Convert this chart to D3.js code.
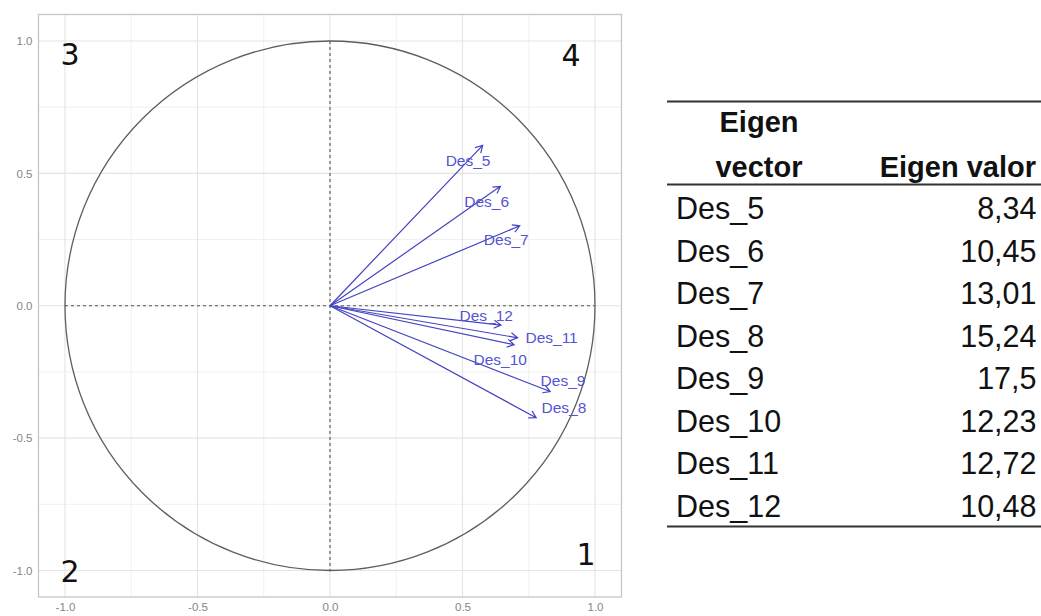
<!DOCTYPE html>
<html>
<head>
<meta charset="utf-8">
<script src="https://cdn.jsdelivr.net/npm/d3@7"></script>
<style>
  html, body { margin: 0; padding: 0; background: #fff; }
  svg { display: block; }
</style>
</head>
<body>
<svg id="chart" width="1041" height="616"></svg>
<script>
// Variable loadings on the first two principal components
const variables = ["Des_5", "Des_6", "Des_7", "Des_8", "Des_9", "Des_10", "Des_11", "Des_12"];
const loadingDim1 = [0.576, 0.643, 0.716, 0.778, 0.831, 0.695, 0.708, 0.645];
const loadingDim2 = [0.606, 0.451, 0.302, -0.423, -0.324, -0.147, -0.121, -0.073];

// Eigenvalues reported in the side table
const eigenValues = [8.34, 10.45, 13.01, 15.24, 17.5, 12.23, 12.72, 10.48];

// Axis ticks
const tickValues = [-1, -0.5, 0, 0.5, 1];
const tickLabels = ["-1.0", "-0.5", "0.0", "0.5", "1.0"];
const minorTicks = [-0.75, -0.25, 0.25, 0.75];

// Quadrant numbers
const quadrants = ["1", "2", "3", "4"];

const svg = d3.select("#chart");
svg.append("rect").attr("width", 1041).attr("height", 616).attr("fill", "#fff");

const x = d3.scaleLinear().domain([-1.1, 1.1]).range([38.5, 621.5]);
const y = d3.scaleLinear().domain([-1.1, 1.1]).range([597, 14.5]);

const plot = svg.append("g");

// grid
plot.selectAll("line.minor-v").data(minorTicks).join("line")
  .attr("x1", d => x(d)).attr("x2", d => x(d))
  .attr("y1", y(-1.1)).attr("y2", y(1.1))
  .attr("stroke", "#eeeeee").attr("stroke-width", 0.9);
plot.selectAll("line.minor-h").data(minorTicks).join("line")
  .attr("y1", d => y(d)).attr("y2", d => y(d))
  .attr("x1", x(-1.1)).attr("x2", x(1.1))
  .attr("stroke", "#eeeeee").attr("stroke-width", 0.9);
plot.selectAll("line.major-v").data(tickValues).join("line")
  .attr("x1", d => x(d)).attr("x2", d => x(d))
  .attr("y1", y(-1.1)).attr("y2", y(1.1))
  .attr("stroke", "#e4e4e4").attr("stroke-width", 1.1);
plot.selectAll("line.major-h").data(tickValues).join("line")
  .attr("y1", d => y(d)).attr("y2", d => y(d))
  .attr("x1", x(-1.1)).attr("x2", x(1.1))
  .attr("stroke", "#e4e4e4").attr("stroke-width", 1.1);

// panel border
plot.append("rect")
  .attr("x", x(-1.1)).attr("y", y(1.1))
  .attr("width", x(1.1) - x(-1.1)).attr("height", y(-1.1) - y(1.1))
  .attr("fill", "none").attr("stroke", "#c6c6c6").attr("stroke-width", 1.3);

// axes (labels only, light grey)
const xAxis = d3.axisBottom(x).tickValues(tickValues)
  .tickFormat((d, i) => tickLabels[i]).tickSize(0).tickPadding(6);
const yAxis = d3.axisLeft(y).tickValues(tickValues)
  .tickFormat((d, i) => tickLabels[i]).tickSize(0).tickPadding(6);

const gx = svg.append("g").attr("transform", `translate(0,${y(-1.1)})`).call(xAxis);
const gy = svg.append("g").attr("transform", `translate(${x(-1.1)},0)`).call(yAxis);
[gx, gy].forEach(g => {
  g.select(".domain").remove();
  g.selectAll(".tick text")
    .attr("fill", "#858585")
    .style("font-family", "'Liberation Sans', Arial, sans-serif")
    .style("font-size", "11.5px");
});

// correlation circle
plot.append("ellipse")
  .attr("cx", x(0)).attr("cy", y(0))
  .attr("rx", x(1) - x(0)).attr("ry", y(0) - y(1))
  .attr("fill", "none").attr("stroke", "#5e5e5e").attr("stroke-width", 1.3);

// dashed axes through the origin
plot.append("line")
  .attr("x1", x(-1)).attr("x2", x(1)).attr("y1", y(0)).attr("y2", y(0))
  .attr("stroke", "#555").attr("stroke-width", 1.1).attr("stroke-dasharray", "3,3");
plot.append("line")
  .attr("x1", x(0)).attr("x2", x(0)).attr("y1", y(1)).attr("y2", y(-1))
  .attr("stroke", "#555").attr("stroke-width", 1.1).attr("stroke-dasharray", "3,3");

// loading vectors
const arrowColor = "#4444c2";
const labelColor = "#5555d0";
const vectors = variables.map((v, i) => ({ name: v, dx: loadingDim1[i], dy: loadingDim2[i] }));

const headLen = 8, headAng = Math.PI / 6;
const arrows = plot.append("g");
vectors.forEach(d => {
  const x0 = x(0), y0 = y(0), x1 = x(d.dx), y1 = y(d.dy);
  const a = Math.atan2(y1 - y0, x1 - x0);
  const p = d3.path();
  p.moveTo(x0, y0); p.lineTo(x1, y1);
  p.moveTo(x1 - headLen * Math.cos(a - headAng), y1 - headLen * Math.sin(a - headAng));
  p.lineTo(x1, y1);
  p.lineTo(x1 - headLen * Math.cos(a + headAng), y1 - headLen * Math.sin(a + headAng));
  arrows.append("path").attr("d", p.toString())
    .attr("fill", "none").attr("stroke", arrowColor).attr("stroke-width", 1.2)
    .attr("stroke-linejoin", "miter");
});

// label offsets (pixels) from each arrow tip, keeping labels clear of each other
const nudges = {
  "Des_5": [-14.6, 15], "Des_6": [-13.7, 15], "Des_7": [-13.5, 14],
  "Des_8": [27.7, -10.4], "Des_9": [12.8, -11.4], "Des_10": [-14, 14.7],
  "Des_11": [34, 0], "Des_12": [-14.7, -9.3]
};
plot.append("g").selectAll("text").data(vectors).join("text")
  .attr("x", d => x(d.dx) + nudges[d.name][0])
  .attr("y", d => y(d.dy) + nudges[d.name][1])
  .attr("dy", "0.36em")
  .attr("text-anchor", "middle")
  .attr("fill", labelColor)
  .style("font-family", "'Liberation Sans', Arial, sans-serif")
  .style("font-size", "15.5px")
  .text(d => d.name);

// quadrant numbers
const quadPos = {
  "1": [586, 554], "2": [70, 571.5], "3": [70, 54.5], "4": [571, 55]
};
svg.append("g").selectAll("text").data(quadrants).join("text")
  .attr("x", d => quadPos[d][0]).attr("y", d => quadPos[d][1])
  .attr("dy", "0.36em").attr("text-anchor", "middle")
  .attr("fill", "#111")
  .style("font-family", "'DejaVu Sans', sans-serif")
  .style("font-size", "30px")
  .text(d => d);

// eigenvalue table
const table = svg.append("g");
const tFont = "'Liberation Sans', Arial, sans-serif";
const tLeft = 667, tRight = 1041;
const rule = (yy) => table.append("line")
  .attr("x1", tLeft).attr("x2", tRight).attr("y1", yy).attr("y2", yy)
  .attr("stroke", "#333").attr("stroke-width", 1.8);
rule(101.5); rule(184.5); rule(526.5);

table.append("text").attr("x", 759).attr("y", 132).attr("text-anchor", "middle")
  .style("font-family", tFont).style("font-size", "29px").style("font-weight", "bold")
  .attr("fill", "#111").text("Eigen");
table.append("text").attr("x", 759).attr("y", 176.5).attr("text-anchor", "middle")
  .style("font-family", tFont).style("font-size", "29px").style("font-weight", "bold")
  .attr("fill", "#111").text("vector");
table.append("text").attr("x", 1036).attr("y", 176.5).attr("text-anchor", "end")
  .style("font-family", tFont).style("font-size", "29px").style("font-weight", "bold")
  .attr("fill", "#111").text("Eigen valor");

const rowY = d3.scalePoint().domain(variables).range([219.3, 516.7]);
const fmtComma = v => String(v).replace(".", ",");
table.selectAll("text.name").data(variables).join("text")
  .attr("x", 676).attr("y", d => rowY(d))
  .style("font-family", tFont).style("font-size", "30.5px")
  .attr("fill", "#111").text(d => d);
table.selectAll("text.val").data(eigenValues).join("text")
  .attr("x", 1036.5).attr("y", (d, i) => rowY(variables[i]))
  .attr("text-anchor", "end")
  .style("font-family", tFont).style("font-size", "30.5px")
  .attr("fill", "#111").text(d => fmtComma(d));
</script>
</body>
</html>
